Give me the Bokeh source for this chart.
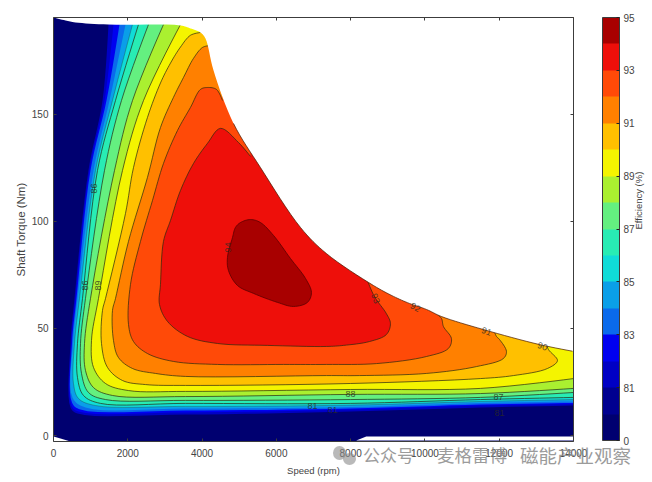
from bokeh.plotting import figure
from bokeh.embed import file_html
from bokeh.resources import INLINE
from bokeh.layouts import column
from bokeh.models import (Range1d, FixedTicker, LinearAxis, ColorBar, LinearColorMapper,
                          Div, ColumnDataSource)
from bokeh.core.properties import value
import math

# ---- data ----
bar_ticks = [0, 2, 4, 6, 8, 10, 12, 14, 16]
bar_labels = ["0", "81", "83", "85", "87", "89", "91", "93", "95"]
band_colors = ["#000070", "#000090", "#0000c4", "#0000f0", "#0a6aec", "#0a9fe8", "#10dcd8", "#28ecb4",
               "#64f080", "#aaf030", "#f4f400", "#ffc000", "#ff8000", "#ff4a08", "#ee0f0a", "#a80000"]
levels = [81, 82, 83, 84, 85, 86, 87, 88, 89, 90, 91, 92, 93]
x_ticks = [0, 2000, 4000, 6000, 8000, 10000, 12000, 14000]
y_ticks = [0, 50, 100, 150]

env_s = [0, 323, 592, 1480, 3419, 3688, 3957, 4092, 4307, 4846, 5572, 6650, 7349, 8614, 9153, 9584, 10041, 10445, 11576, 13083, 14000]
env_t = [195.3, 193.9, 193, 192, 191.6, 190.2, 188.3, 185.5, 170.6, 145.8, 125.2, 97.2, 85, 70.1, 65, 61.7, 58.9, 55.6, 49.5, 42.5, 39.3]

s81 = [1480, 1320, 940, 565, 458, 458, 646, 3553, 7995, 11495, 14000]
t81 = [192, 156.5, 123.8, 64, 43, 13.1, 10.3, 9.8, 11.2, 13.1, 14]
s82 = [1615, 1373, 969, 592, 485, 485, 673, 3553, 7995, 11495, 14000]
t82 = [192, 156.5, 123.8, 64, 43, 14, 11.2, 10.8, 12.1, 14, 14.7]
s83 = [1777, 1427, 996, 619, 498, 498, 727, 3553, 7995, 11495, 14000]
t83 = [192, 156.5, 123.8, 64, 43, 15.4, 12.1, 11.7, 12.6, 14.5, 15.2]
s84 = [1938, 1508, 1077, 646, 525, 511, 861, 3553, 7995, 11495, 14000]
t84 = [192, 156.5, 123.8, 64, 43, 17.8, 13.1, 12.6, 13.3, 15.2, 15.9]
s85 = [2127, 1588, 1131, 700, 565, 538, 673, 1131, 3553, 7995, 11495, 14000]
t85 = [192, 156.5, 123.8, 64, 43, 24.3, 17.3, 14, 13.6, 14.2, 15.9, 16.8]
s86 = [2288, 1669, 1184, 781, 646, 646, 808, 1265, 3553, 7995, 11495, 14000]
t86 = [192, 156.5, 123.8, 64, 43, 27.1, 18.7, 15, 15, 15, 16.8, 17.8]
s87 = [2557, 1830, 1373, 861, 727, 754, 942, 1400, 3553, 7995, 11495, 14000]
t87 = [192, 156.5, 123.8, 64, 43, 29, 20.1, 16.8, 16.4, 16.8, 17.8, 20.1]
s88 = [2961, 2127, 1642, 996, 835, 861, 1077, 1588, 3553, 7995, 11495, 14000]
t88 = [192, 156.5, 123.8, 64, 43, 30.4, 22.4, 18.7, 18.2, 19.2, 19.6, 22]
s89 = [3419, 2423, 1857, 1211, 1023, 1077, 1400, 2019, 3553, 7995, 11495, 14000]
t89 = [192, 156.5, 123.8, 64, 44.4, 31.8, 24.3, 21, 20.6, 21.5, 22, 26.6]
s90 = [3957, 3688, 3419, 3150, 2880, 2530, 2154, 1938, 1400, 1319, 1292, 1454, 1857, 2477, 3553, 7995, 11495, 12383, 13298, 13568, 13325, 13250]
t90 = [188.3, 187, 181.5, 174, 164.7, 148.6, 125.2, 103.7, 64, 58.4, 43, 31.8, 25.7, 23.8, 23.4, 24.3, 26.6, 28, 31.3, 35, 40.2, 44]
s91 = [4200, 4011, 3769, 3500, 3230, 2880, 2530, 2019, 1669, 1588, 1615, 1750, 2127, 2746, 3553, 7349, 8238, 10041, 11387, 12114, 12195, 12006, 11926, 11850]
t91 = [182.2, 181.3, 176.2, 167.3, 158, 143.9, 120.6, 90.7, 64, 58.4, 44.4, 36.4, 31.3, 29, 27.6, 28, 28, 29, 32.2, 36, 39.3, 44.9, 46.3, 49.5]
s92 = [4550, 4388, 4146, 3957, 3688, 3338, 2961, 2665, 2342, 2073, 2019, 2154, 2530, 3230, 4415, 6192, 7349, 8695, 10041, 10633, 10714, 10499, 10445, 10300]
t92 = [156.5, 161.7, 162.6, 161.7, 153.3, 142.5, 127.1, 109.8, 90.7, 70.6, 51.9, 43.9, 38.3, 34.6, 33.2, 33.2, 33.2, 33.6, 36.9, 40.7, 45.3, 50.9, 54.7, 57]
s93 = [5303, 4980, 4496, 4146, 3769, 3419, 3150, 2961, 2880, 2854, 3069, 3607, 4415, 5761, 7349, 7807, 8507, 8964, 9072, 8964, 8641, 8450]
t93 = [130.4, 136.9, 143.5, 136.5, 127.1, 114.5, 100.5, 90.7, 70.6, 61.2, 53.3, 46.3, 43, 42.1, 41.6, 42.1, 43.9, 47.2, 52.3, 56.9, 64.9, 72.5]
s94 = [5034, 5303, 5572, 5922, 6380, 6784, 6945, 6838, 6461, 6030, 5384, 4953, 4711, 4684, 4819, 4899]
t94 = [99.5, 100.9, 99.5, 93.5, 82.7, 73.4, 66.8, 62.2, 60.3, 62.2, 66.4, 70.1, 77.1, 83.2, 92.5, 97.2]

contour_speed = [s81, s82, s83, s84, s85, s86, s87, s88, s89, s90, s91, s92, s93]
contour_torque = [t81, t82, t83, t84, t85, t86, t87, t88, t89, t90, t91, t92, t93]

label_text = ["86", "86", "89", "94", "93", "92", "91", "90", "88", "87", "81", "81", "81"]
label_speed = [1077, 861, 1211, 4711, 8668, 9745, 11656, 13164, 7995, 11980, 6972, 7510, 12006]
label_torque = [115.4, 70.1, 70.1, 87.9, 64, 59.8, 48.6, 41.6, 19.2, 18.2, 13.6, 12.1, 10.3]
label_angle = [90, 90, 90, 90, -70, -30, -20, -20, 0, 0, 0, 0, 0]

notch_s = [0, 188, 458, 0]
notch_t = [-0.5, -1.4, -2.8, -2.8]
strip_s = [8150, 8420, 14000, 14000]
strip_t = [-2.3, -0.5, -0.5, -2.3]
watermark = ["公众号", "麦格雷博", "磁能产业观察"]

# ---- figure ----
XMAX, YMIN, YMAX = 14000, -2.8, 195.3
GREY = "#3c3c3c"
FONT = "Liberation Sans"
p = figure(width=652, height=478, output_backend="svg", toolbar_location=None,
           x_range=Range1d(0, XMAX), y_range=Range1d(YMIN, YMAX),
           min_border_left=53, min_border_top=17, min_border_bottom=37, min_border_right=79)
p.grid.visible = False
p.outline_line_color = None

p.xaxis.ticker = FixedTicker(ticks=x_ticks)
p.yaxis.ticker = FixedTicker(ticks=y_ticks)
p.xaxis.axis_label = "Speed (rpm)"
p.yaxis.axis_label = "Shaft Torque (Nm)"
for ax in (p.xaxis[0], p.yaxis[0]):
    ax.axis_line_color = GREY
    ax.major_tick_line_color = GREY
    ax.major_tick_in = 3
    ax.major_tick_out = 0
    ax.minor_tick_line_color = None
    ax.major_label_text_font = FONT
    ax.major_label_text_font_size = "10px"
    ax.major_label_text_color = "#444444"
    ax.axis_label_text_font = FONT
    ax.axis_label_text_font_style = "normal"
    ax.axis_label_text_color = "#444444"
p.xaxis.major_label_standoff = 7
p.xaxis.axis_label_standoff = 5
p.xaxis.axis_label_text_font_size = "9.5px"
p.yaxis.major_label_standoff = 5
p.yaxis.axis_label_standoff = 2
p.yaxis.axis_label_text_font_size = "11.5px"

for side, tk in (("above", x_ticks), ("right", y_ticks)):
    a = LinearAxis(ticker=FixedTicker(ticks=tk), major_label_overrides={t: "" for t in tk},
                   major_label_text_font_size="1px", major_label_standoff=0,
                   major_tick_in=3, major_tick_out=0, minor_tick_line_color=None,
                   axis_line_color=GREY, major_tick_line_color=GREY)
    if side == "right":
        a.axis_label = "Efficiency (%)"
        a.axis_label_standoff = 65
        a.axis_label_orientation = math.pi / 2
        a.axis_label_text_font = FONT
        a.axis_label_text_font_style = "normal"
        a.axis_label_text_font_size = "9.5px"
        a.axis_label_text_color = "#444444"
    p.add_layout(a, side)


def smooth(xs, ys, closed_loop=False, steps=8):
    """Centripetal Catmull-Rom drawing of a contour through the points read."""
    px = [(x / 26.92, y * 2.14) for x, y in zip(xs, ys)]
    if closed_loop:
        pts = [px[-1]] + px + px[:2]
    else:
        pts = [px[0]] + px + [px[-1]]
    out = []
    for i in range(1, len(pts) - 2):
        p0, p1, p2, p3 = pts[i - 1], pts[i], pts[i + 1], pts[i + 2]
        def knot(a, b):
            return max(math.dist(a, b) ** 0.5, 1e-3)
        t0 = 0.0
        t1 = t0 + knot(p0, p1)
        t2 = t1 + knot(p1, p2)
        t3 = t2 + knot(p2, p3)
        for k in range(steps):
            t = t1 + (t2 - t1) * k / steps
            def lerp(a, b, ta, tb):
                return tuple(((tb - t) * u + (t - ta) * v) / (tb - ta) for u, v in zip(a, b))
            a1 = lerp(p0, p1, t0, t1)
            a2 = lerp(p1, p2, t1, t2)
            a3 = lerp(p2, p3, t2, t3)
            b1 = lerp(a1, a2, t0, t2)
            b2 = lerp(a2, a3, t1, t3)
            out.append(lerp(b1, b2, t1, t2))
    if not closed_loop:
        out.append(px[-1])
    return [q[0] * 26.92 for q in out], [q[1] / 2.14 for q in out]


# navy base band
p.patch([0, XMAX, XMAX, 0], [YMIN, YMIN, YMAX + 5, YMAX + 5], fill_color=band_colors[0], line_color=None)

# nested regions, painted from the lowest level up
for i, (sp, tq) in enumerate(zip(contour_speed, contour_torque)):
    cx, cy = smooth(sp, tq)
    p.patch(cx + [XMAX + 1000, XMAX + 1000, cx[0]], cy + [cy[-1], 210, 210],
            fill_color=band_colors[i + 2], line_color=None)
    if levels[i] >= 85:
        p.line(cx, cy, line_color="#2a2a10", line_width=1, line_alpha=0.7 if levels[i] > 85 else 0.3)
ix, iy = smooth(s94, t94, closed_loop=True)
p.patch(ix, iy, fill_color=band_colors[15], line_color="#5a0000", line_width=0.8)

# blank region outside of the operating envelope
ex, ey = smooth(env_s, env_t)
p.patch(ex + [XMAX + 1000, XMAX + 1000, 0], ey + [ey[-1], 210, 210], fill_color="white", line_color=None)
p.line(ex[72:160], ey[72:160], line_color="#4a1a00", line_width=0.9, line_alpha=0.8)
p.patch(notch_s, notch_t, fill_color="white", line_color=None)
p.patch(strip_s, strip_t, fill_color="white", line_color=None)

# contour labels
src = ColumnDataSource(dict(x=label_speed, y=label_torque, text=label_text,
                            angle=[math.radians(a) for a in label_angle]))
p.text("x", "y", text="text", angle="angle", source=src, text_font=value(FONT), text_font_size="9px",
       text_color="#2a2a20", text_alpha=0.8, text_align="center", text_baseline="middle")

# colour bar
mapper = LinearColorMapper(palette=band_colors, low=0, high=16)
cb = ColorBar(color_mapper=mapper, ticker=FixedTicker(ticks=bar_ticks),
              major_label_overrides={t: l for t, l in zip(bar_ticks, bar_labels)},
              width=17, height=423, padding=0, margin=0, location=(549, 1),
              background_fill_alpha=0, border_line_color=None,
              major_label_text_font=FONT, major_label_text_font_size="10px", major_label_text_color="#444444",
              major_tick_line_color="#222222", major_tick_in=3, major_tick_out=0, minor_tick_line_color=None,
              bar_line_color=GREY, label_standoff=4)
p.add_layout(cb)

# watermark laid over the bottom edge of the picture
spans = "".join(
    f'<span style="position:absolute;left:{x}px;top:3px;line-height:20px;font-size:{fs}px;white-space:nowrap;'
    f'font-family:\'Noto Sans CJK SC\';color:#8a8a8a;opacity:0.85">{t}</span>'
    for t, x, fs in zip(watermark, [363, 437, 520], [17, 17.5, 18.5]))
dots = "".join(
    f'<span style="position:absolute;left:{x}px;top:{y}px;width:{w}px;height:{h}px;border-radius:50%;'
    f'background:#8a8a8a;opacity:0.6"></span>'
    for x, y, w, h in [(333, 4, 13, 14), (343, 11, 13, 12)])
mark = Div(text=f'<div style="position:relative;width:650px;height:30px">{dots}{spans}</div>',
           width=650, height=30, margin=(-36, 0, 0, 0))

open("out.html", "w").write(file_html(column(p, mark, spacing=0), INLINE))
